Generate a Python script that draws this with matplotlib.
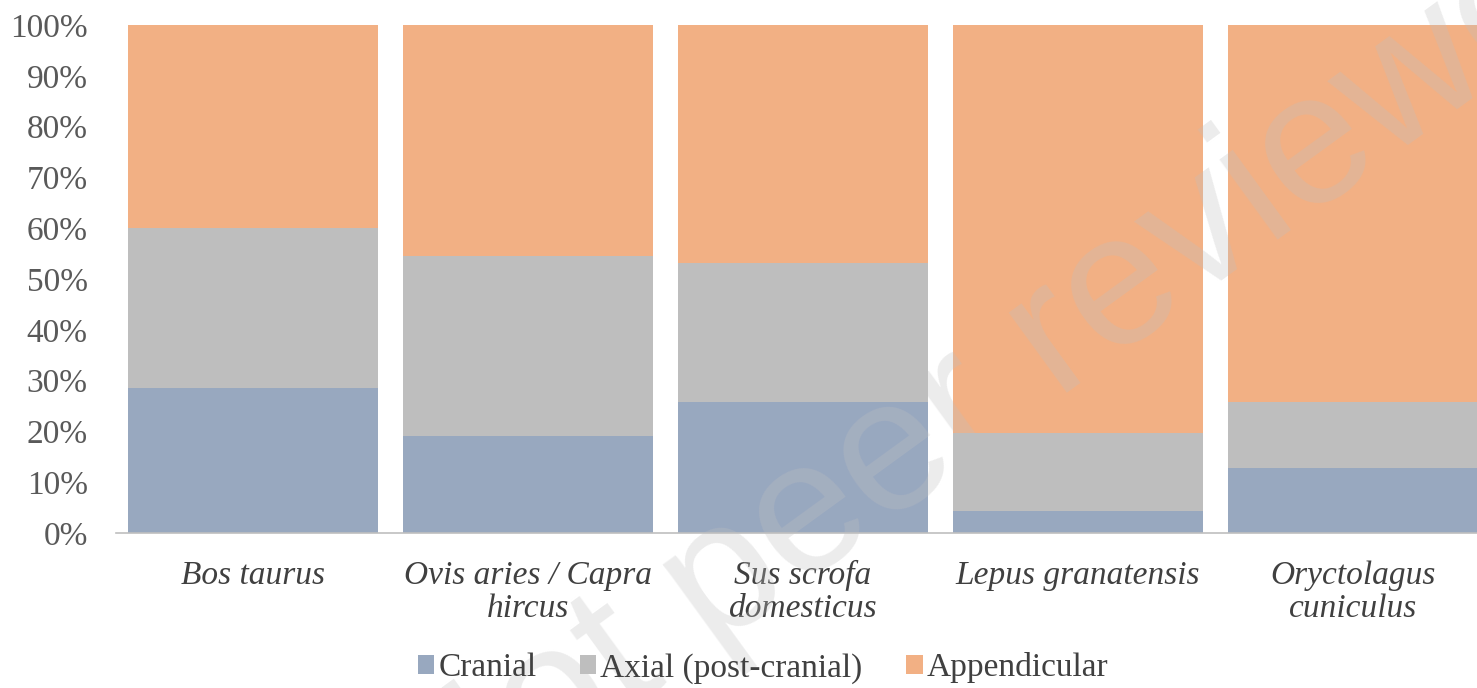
import matplotlib.pyplot as plt
import numpy as np

species = ['Bos taurus', 'Ovis aries / Capra\nhircus', 'Sus scrofa\ndomesticus',
           'Lepus granatensis', 'Oryctolagus\ncuniculus']
cranial = [28.6, 19.0, 25.7, 4.4, 12.7]
axial = [31.4, 35.6, 27.4, 15.3, 13.0]
appendicular = [40.0, 45.4, 46.9, 80.3, 74.3]
yticks = [0, 10, 20, 30, 40, 50, 60, 70, 80, 90, 100]

serif = 'Liberation Serif'

fig = plt.figure(figsize=(14.77, 6.88), dpi=100)
ax = fig.add_axes([0.0782, 0.2253, 0.931, 0.7384])

x = np.arange(len(species))
w = 0.91
ax.bar(x, cranial, w, color='#98a8bf', label='Cranial')
ax.bar(x, axial, w, bottom=cranial, color='#bebebe', label='Axial (post-cranial)')
bottom2 = np.array(cranial) + np.array(axial)
ax.bar(x, appendicular, w, bottom=bottom2, color='#f2b084', label='Appendicular')

ax.set_xlim(-0.5, 4.5)
ax.set_ylim(0, 100)
ax.set_yticks(yticks)
ax.set_yticklabels([f'{t}%' for t in yticks], fontfamily=serif, fontsize=24, color='#595959')
ax.set_xticks(x)
ax.set_xticklabels(species, fontfamily=serif, fontsize=24, style='italic', color='#404040',
                   linespacing=1.12)
ax.tick_params(axis='y', length=0, pad=20)
ax.tick_params(axis='x', length=0, pad=19.5)
for s in ['top', 'right', 'left']:
    ax.spines[s].set_visible(False)
ax.spines['bottom'].set_color('#bfbfbf')
ax.spines['bottom'].set_linewidth(1.2)

leg = fig.legend(loc='center', bbox_to_anchor=(0.5166, 0.029), ncol=3, frameon=False,
                 prop={'family': serif, 'size': 24}, handlelength=0.5, handleheight=0.5,
                 handletextpad=0.12, columnspacing=1.3)
for t in leg.get_texts():
    t.set_color('#404040')

# watermark
fig.text(0.293, -0.24, 'Not peer reviewed', fontsize=135, family='Liberation Sans',
         color='#c0c0c0', alpha=0.3, rotation=36, rotation_mode='anchor',
         ha='left', va='baseline')

fig.savefig('out.png', dpi=100)
